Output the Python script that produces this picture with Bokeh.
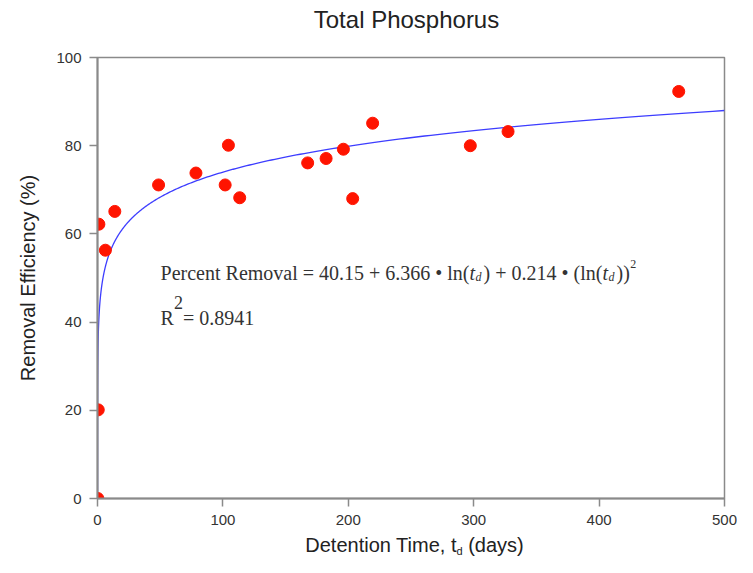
import math
import numpy as np
from bokeh.plotting import figure
from bokeh.models import Range1d, Label, FixedTicker, Div
from bokeh.layouts import column
from bokeh.embed import file_html
from bokeh.resources import INLINE

# ---- data ----
detention_days = [0.3, 0.6, 1.1, 6.3, 13.8, 48.7, 78.5, 101.8, 104.4, 113.4,
                  167.6, 182.3, 196.1, 203.5, 219.4, 297.3, 327.4, 463.5]
removal_pct = [0.0, 20.1, 62.2, 56.3, 65.1, 71.1, 73.8, 71.1, 80.1, 68.2,
               76.1, 77.1, 79.2, 68.0, 85.1, 80.0, 83.2, 92.3]
fit_coef = [40.15, 6.366, 0.214]   # a + b ln(t) + c ln(t)^2
r_squared = "0.8941"
x_ticks = [0, 100, 200, 300, 400, 500]
y_ticks = [0, 20, 40, 60, 80, 100]
title_text = "Total Phosphorus"
y_label = "Removal Efficiency (%)"

# fitted curve from the published equation
a, b, c = fit_coef
L0 = (-b + math.sqrt(b * b - 4 * c * a)) / (2 * c)
t_fit = np.geomspace(math.exp(L0), 500, 800)
lnt = np.log(t_fit)
y_fit = a + b * lnt + c * lnt ** 2

W = 737
TITLE_H = 40
XLAB_H = 23
H = 557 - TITLE_H - XLAB_H

p = figure(width=W, height=H, x_range=Range1d(0, 500), y_range=Range1d(0, 100),
           output_backend="svg", toolbar_location=None,
           min_border_left=97, min_border_right=13, min_border_top=57 - TITLE_H,
           min_border_bottom=36)
p.background_fill_color = "white"
p.border_fill_color = "white"
p.outline_line_color = "#8a8a8a"
p.outline_line_width = 1.5
p.grid.visible = False

for ax, ticks in ((p.xaxis[0], x_ticks), (p.yaxis[0], y_ticks)):
    ax.ticker = FixedTicker(ticks=ticks)
    ax.axis_line_color = "#8a8a8a"
    ax.axis_line_width = 2
    ax.major_tick_line_color = "#8a8a8a"
    ax.major_tick_line_width = 1.5
    ax.major_tick_out = 8
    ax.major_tick_in = 0
    ax.minor_tick_line_color = None
    ax.major_label_text_font = "Liberation Sans"
    ax.major_label_text_font_size = "15px"
    ax.major_label_text_color = "#333333"
p.xaxis.major_label_standoff = 8
p.yaxis.major_label_standoff = 8

p.yaxis.axis_label = y_label
p.yaxis.axis_label_text_font = "Liberation Sans"
p.yaxis.axis_label_text_font_size = "20px"
p.yaxis.axis_label_text_font_style = "normal"
p.yaxis.axis_label_text_color = "#222222"
p.yaxis.axis_label_standoff = 14

p.line(t_fit, y_fit, line_color="#3d3dff", line_width=1.3)
p.scatter(detention_days, removal_pct, size=12, fill_color="#ff1400", line_color="#ff1400")

# ---- equation texts (Times-metric widths for inline placement) ----
SERIF = {' ': 250, 'P': 556, 'e': 444, 'r': 333, 'c': 444, 'n': 500, 't': 278, 'R': 667,
         'm': 778, 'o': 500, 'v': 500, 'a': 444, 'l': 278, '=': 564, '.': 250, '+': 564,
         '\u2022': 350, '(': 333, ')': 333, 'd': 500}
for dgt in "0123456789":
    SERIF[dgt] = 500


def width(s, size):
    return sum(SERIF.get(ch, 500) for ch in s) * size / 1000.0


def pieces(x, y, parts, color="#333333"):
    off = 0.0
    for t, sz, st, dy, gap in parts:
        p.add_layout(Label(x=x, y=y, x_offset=off, y_offset=dy, text=t,
                           text_font="Liberation Serif", text_font_size=f"{sz}px",
                           text_font_style=st, text_color=color, text_align="left",
                           text_baseline="alphabetic"))
        off += width(t, sz) + gap


eq = [("Percent Removal = " + f"{a:.2f}" + " + " + f"{b:.3f}" + " \u2022 ln(", 20, "normal", 0, 0),
      ("t", 20, "italic", 0, 0.5),
      ("d", 12, "italic", -4, 2),
      (") + " + f"{c:.3f}" + " \u2022 (ln(", 20, "normal", 0, 0),
      ("t", 20, "italic", 0, 0.5),
      ("d", 12, "italic", -4, 2),
      ("))", 20, "normal", 0, 0.5),
      ("2", 12, "normal", 9, 0)]
pieces(50.3, 51.2, eq)

r2 = [("R", 20, "normal", 0, 0),
      ("2", 18, "normal", 15, 0),
      (" = " + r_squared, 20, "normal", 0, 0)]
pieces(50.3, 41.0, r2)

# chart title, as HTML text above the figure
title_center = 406.4
tw = int(2 * (W - title_center))
title = Div(text=title_text, width=tw, height=TITLE_H, margin=(0, 0, 0, W - tw),
            styles={"font-family": "Liberation Sans", "font-size": "24px", "color": "#222222",
                    "text-align": "center", "line-height": f"{TITLE_H}px", "overflow": "visible"})

# x-axis title with a real subscript, as HTML text below the figure
label_center = 414.5
div_w = int(2 * (W - label_center))
xlabel = Div(text='Detention Time, t<sub style="font-size:11px;vertical-align:-3px">d</sub> (days)',
             width=div_w, height=XLAB_H, margin=(0, 0, 0, W - div_w),
             styles={"font-family": "Liberation Sans", "font-size": "20px", "color": "#222222",
                     "text-align": "center", "line-height": f"{XLAB_H}px", "overflow": "visible"})

layout = column(title, p, xlabel)
open("out.html", "w").write(file_html(layout, INLINE))
